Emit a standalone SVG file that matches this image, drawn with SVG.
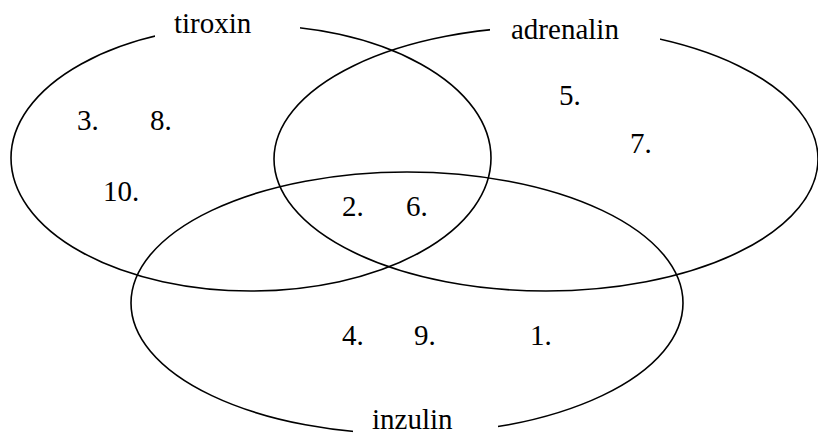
<svg xmlns="http://www.w3.org/2000/svg" width="818" height="436" viewBox="0 0 818 436">
<style>
.set{fill:none;stroke:#000;stroke-width:1.6}
.mask{fill:#fff;stroke:none}
text{font-family:'Liberation Serif','Times New Roman',serif;font-size:29px;fill:#000}
</style>
<rect width="818" height="436" fill="#fff"/>
<g id="sets">
<ellipse class="set" cx="251" cy="158" rx="240" ry="133"/>
<ellipse class="set" cx="546" cy="159" rx="272" ry="132"/>
<ellipse class="set" cx="407" cy="303" rx="276" ry="131"/>
</g>
<g id="tiroxin">
<rect class="mask" x="155" y="8" width="145" height="36"/>
<text x="174" y="33">tiroxin</text>
</g>
<g id="adrenalin">
<rect class="mask" x="490" y="12" width="170" height="36"/>
<text x="511" y="39">adrenalin</text>
</g>
<g id="inzulin">
<rect class="mask" x="353" y="408" width="145" height="28"/>
<text x="372" y="429">inzulin</text>
</g>
<g id="items">
<text x="77" y="130">3.</text>
<text x="150" y="130">8.</text>
<text x="103" y="201">10.</text>
<text x="342" y="216">2.</text>
<text x="406" y="216">6.</text>
<text x="559" y="105">5.</text>
<text x="630" y="153">7.</text>
<text x="342" y="345">4.</text>
<text x="414" y="345">9.</text>
<text x="530" y="345">1.</text>
</g>
</svg>
